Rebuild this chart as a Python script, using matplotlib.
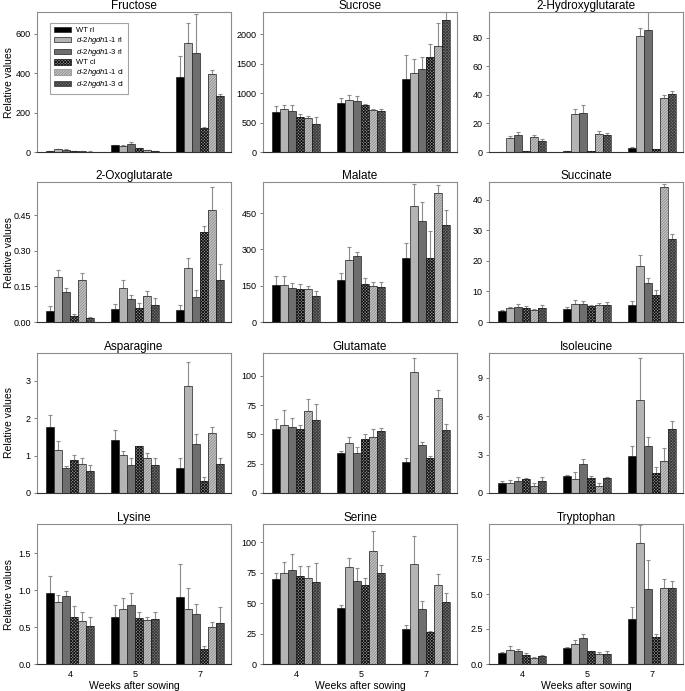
import numpy as np
import matplotlib
matplotlib.use('Agg')
import matplotlib.pyplot as plt
from matplotlib.patches import Patch
from matplotlib.ticker import FormatStrFormatter

plt.rcParams['font.family'] = ['Liberation Sans', 'DejaVu Sans']
plt.rcParams['mathtext.fontset'] = 'custom'
plt.rcParams['mathtext.it'] = 'Liberation Sans:italic'
plt.rcParams['mathtext.rm'] = 'Liberation Sans'
plt.rcParams['hatch.linewidth'] = 0.6

# x groups and series
weeks = ['4', '5', '7']
series = ['WT rl', r'$\mathit{d}$-$\mathit{2hgdh1}$-$\mathit{1}$ rl', r'$\mathit{d}$-$\mathit{2hgdh1}$-$\mathit{3}$ rl',
          'WT cl', r'$\mathit{d}$-$\mathit{2hgdh1}$-$\mathit{1}$ cl', r'$\mathit{d}$-$\mathit{2hgdh1}$-$\mathit{3}$ cl']

# values: one row per week (4, 5, 7), six series each
fructose = [[5, 13, 11, 3, 3, 2], [33, 29, 39, 19, 9, 6], [378, 553, 504, 120, 397, 286]]
fructose_err = [[2, 2, 3, 1, 1, 1], [3, 4, 12, 2, 1, 1], [107, 102, 194, 5, 18, 7]]

sucrose = [[684, 729, 701, 598, 575, 473], [832, 883, 866, 792, 707, 701], [1248, 1339, 1407, 1607, 1795, 2239]]
sucrose_err = [[97, 63, 91, 40, 29, 114], [80, 91, 91, 29, 28, 28], [393, 234, 211, 222, 404, 150]]

hydroxyglut = [[0.2, 9.6, 11.7, 0.8, 10.6, 7.5], [0.8, 26.3, 27.2, 0.8, 12.9, 11.7], [2.8, 81.4, 85.2, 2.1, 37.5, 40.4]]
hydroxyglut_err = [[0, 1.7, 2.6, 0, 1.2, 1.4], [0, 3.5, 5.4, 0, 1.9, 1.9], [0.7, 5.4, 13, 0.3, 2.1, 2.1]]

oxoglut = [[0.046, 0.191, 0.128, 0.025, 0.176, 0.018], [0.055, 0.143, 0.096, 0.060, 0.110, 0.072],
           [0.051, 0.228, 0.107, 0.380, 0.470, 0.177]]
oxoglut_err = [[0.020, 0.030, 0.017, 0.009, 0.031, 0.002], [0.020, 0.036, 0.018, 0.020, 0.022, 0.031],
               [0.021, 0.043, 0.027, 0.025, 0.101, 0.066]]

malate = [[153, 154, 139, 138, 135, 109], [173, 257, 271, 158, 149, 144], [264, 480, 417, 264, 534, 402]]
malate_err = [[36, 35, 22, 19, 14, 18], [29, 51, 18, 25, 16, 21], [62, 90, 77, 110, 32, 60]]

succinate = [[3.6, 4.7, 5.0, 4.7, 3.9, 4.7], [4.2, 5.9, 5.9, 5.2, 5.6, 5.6], [5.5, 18.3, 12.7, 9.0, 44.2, 27.2]]
succinate_err = [[0.3, 0.3, 1.0, 0.7, 0.3, 1.0], [0.7, 1.3, 1.0, 0.5, 0.7, 1.0], [1.5, 3.7, 1.7, 1.5, 0.9, 1.7]]

asparagine = [[1.77, 1.16, 0.66, 0.89, 0.78, 0.59], [1.42, 1.02, 0.76, 1.26, 0.94, 0.74], [0.67, 2.87, 1.31, 0.31, 1.61, 0.78]]
asparagine_err = [[0.31, 0.24, 0.07, 0.13, 0.15, 0.15], [0.28, 0.11, 0.17, 0.01, 0.13, 0.20],
                  [0.26, 0.64, 0.28, 0.11, 0.15, 0.16]]

glutamate = [[54.8, 58.2, 56.0, 54.8, 70.2, 62.2], [34.4, 42.9, 34.4, 46.3, 48.0, 52.6], [26.4, 103.4, 40.6, 30.1, 81.0, 53.4]]
glutamate_err = [[8, 12.5, 8, 3, 10, 13.7], [1.4, 5, 4.8, 4.5, 6.8, 3.1], [3.7, 11.7, 2.9, 1.7, 6.8, 5.4]]

isoleucine = [[0.78, 0.78, 0.97, 1.12, 0.57, 0.97], [1.33, 1.12, 2.30, 1.20, 0.57, 1.17], [2.92, 7.23, 3.70, 1.59, 2.53, 4.98]]
isoleucine_err = [[0.19, 0.26, 0.31, 0.05, 0.21, 0.28], [0.08, 0.52, 0.39, 0.13, 0.19, 0.08],
                  [0.78, 3.34, 0.68, 0.47, 1.02, 0.68]]

lysine = [[0.97, 0.84, 0.92, 0.64, 0.59, 0.51], [0.64, 0.75, 0.80, 0.62, 0.60, 0.61], [0.91, 0.75, 0.68, 0.20, 0.50, 0.55]]
lysine_err = [[0.22, 0.09, 0.07, 0.15, 0.12, 0.13], [0.16, 0.15, 0.17, 0.09, 0.04, 0.09], [0.45, 0.28, 0.14, 0.04, 0.07, 0.22]]

serine = [[69.9, 74.5, 77.0, 72.1, 70.4, 67.1], [45.8, 80.0, 68.2, 64.9, 92.6, 74.5], [28.8, 82.2, 45.2, 26.3, 65.2, 50.7]]
serine_err = [[4.6, 9, 13, 8, 10, 15.6], [3, 7.4, 11, 6, 17, 6.6], [3, 22.7, 6.3, 1.1, 8.8, 7.9]]

tryptophan = [[0.76, 1.0, 0.90, 0.64, 0.45, 0.57], [1.14, 1.42, 1.83, 0.90, 0.71, 0.71], [3.25, 8.67, 5.39, 1.95, 5.41, 5.41]]
tryptophan_err = [[0.07, 0.28, 0.14, 0.12, 0.07, 0.07], [0.05, 0.33, 0.31, 0.05, 0.12, 0.21], [0.83, 1.26, 2.07, 0.19, 0.69, 0.5]]

panels = [
    ('Fructose', fructose, fructose_err, 710, [0, 200, 400, 600], None),
    ('Sucrose', sucrose, sucrose_err, 2380, [0, 500, 1000, 1500, 2000], None),
    ('2-Hydroxyglutarate', hydroxyglut, hydroxyglut_err, 98, [0, 20, 40, 60, 80], None),
    ('2-Oxoglutarate', oxoglut, oxoglut_err, 0.59, [0, 0.15, 0.30, 0.45], '%.2f'),
    ('Malate', malate, malate_err, 578, [0, 150, 300, 450], None),
    ('Succinate', succinate, succinate_err, 45.9, [0, 10, 20, 30, 40], None),
    ('Asparagine', asparagine, asparagine_err, 3.75, [0, 1, 2, 3], None),
    ('Glutamate', glutamate, glutamate_err, 119.6, [0, 25, 50, 75, 100], None),
    ('Isoleucine', isoleucine, isoleucine_err, 10.93, [0, 3, 6, 9], None),
    ('Lysine', lysine, lysine_err, 1.9, [0, 0.5, 1.0, 1.5], '%.1f'),
    ('Serine', serine, serine_err, 115, [0, 25, 50, 75, 100], None),
    ('Tryptophan', tryptophan, tryptophan_err, 10, [0, 2.5, 5.0, 7.5], '%.1f'),
]

# face colour, hatch, hatch colour
styles = [
    ('#000000', None, None),
    ('#b4b4b4', None, None),
    ('#6e6e6e', None, None),
    ('#9a9a9a', 'xxxxxxxxxxx', '#111111'),
    ('#c8c8c8', '////////////', '#8a8a8a'),
    ('#7a7a7a', 'xxxxxxxxxxx', '#3a3a3a'),
]

W, H = 685, 691
fig = plt.figure(figsize=(W / 100, H / 100), dpi=100)

col_left = [37, 263, 489]
row_top = [12, 182, 353, 524]
ax_w, ax_h = 194, 140
bar_w = 0.123
x = np.arange(len(weeks))

for i, (name, vals, errs, ymax, yticks, fmt) in enumerate(panels):
    r, c = divmod(i, 3)
    ax = fig.add_axes([col_left[c] / W, 1 - (row_top[r] + ax_h) / H, ax_w / W, ax_h / H])
    vals = np.array(vals).T
    errs = np.array(errs).T
    for k in range(6):
        pos = x + (k - 2.5) * bar_w
        face, hatch, hcol = styles[k]
        if hatch:
            ax.bar(pos, vals[k], bar_w, color=face, hatch=hatch, edgecolor=hcol, linewidth=0, zorder=2)
            ax.bar(pos, vals[k], bar_w, fill=False, edgecolor='#222222', linewidth=0.5, zorder=3)
        else:
            ax.bar(pos, vals[k], bar_w, color=face, edgecolor='#222222', linewidth=0.5, zorder=2)
        ax.errorbar(pos, vals[k], yerr=[np.zeros(3), errs[k]], fmt='none', ecolor='#8c8c8c',
                    elinewidth=0.8, capsize=1.5, capthick=0.8, zorder=1)
    ax.set_xlim(-0.508, 2.477)
    ax.set_ylim(0, ymax)
    ax.set_yticks(yticks)
    if fmt:
        ax.yaxis.set_major_formatter(FormatStrFormatter(fmt))
    ax.set_title(name, fontsize=8.5, pad=2)
    ax.tick_params(axis='y', labelsize=6.5, length=2.5, width=0.6, color='#666666', pad=2)
    ax.set_xticks(x)
    if r == 3:
        ax.set_xticklabels(weeks)
        ax.tick_params(axis='x', labelsize=6.5, length=0, pad=4)
        ax.set_xlabel('Weeks after sowing', fontsize=7.5, labelpad=2)
    else:
        ax.set_xticklabels([])
        ax.tick_params(axis='x', length=0)
    if c == 0:
        ax.set_ylabel('Relative values', fontsize=7.5)
        ax.yaxis.set_label_coords(-23 / ax_w, 0.5)
    for s in ['left', 'top', 'right']:
        ax.spines[s].set_color('#8c8c8c')
        ax.spines[s].set_linewidth(0.8)
    ax.spines['bottom'].set_color('#333333')
    ax.spines['bottom'].set_linewidth(0.8)

    if i == 0:
        handles = []
        for face, hatch, hcol in styles:
            handles.append(Patch(facecolor=face, hatch=hatch, edgecolor=hcol if hcol else '#222222', linewidth=0.5))
        leg = ax.legend(handles, series, loc='upper left', bbox_to_anchor=(13 / ax_w, 1 - 11 / ax_h),
                        borderaxespad=0, fontsize=5.5, handlelength=2.3, handleheight=0.75,
                        labelspacing=0.12, handletextpad=0.6, borderpad=0.5, fancybox=False)
        leg.get_frame().set_edgecolor('#8c8c8c')
        leg.get_frame().set_linewidth(0.8)

plt.savefig('out.png', dpi=100)
